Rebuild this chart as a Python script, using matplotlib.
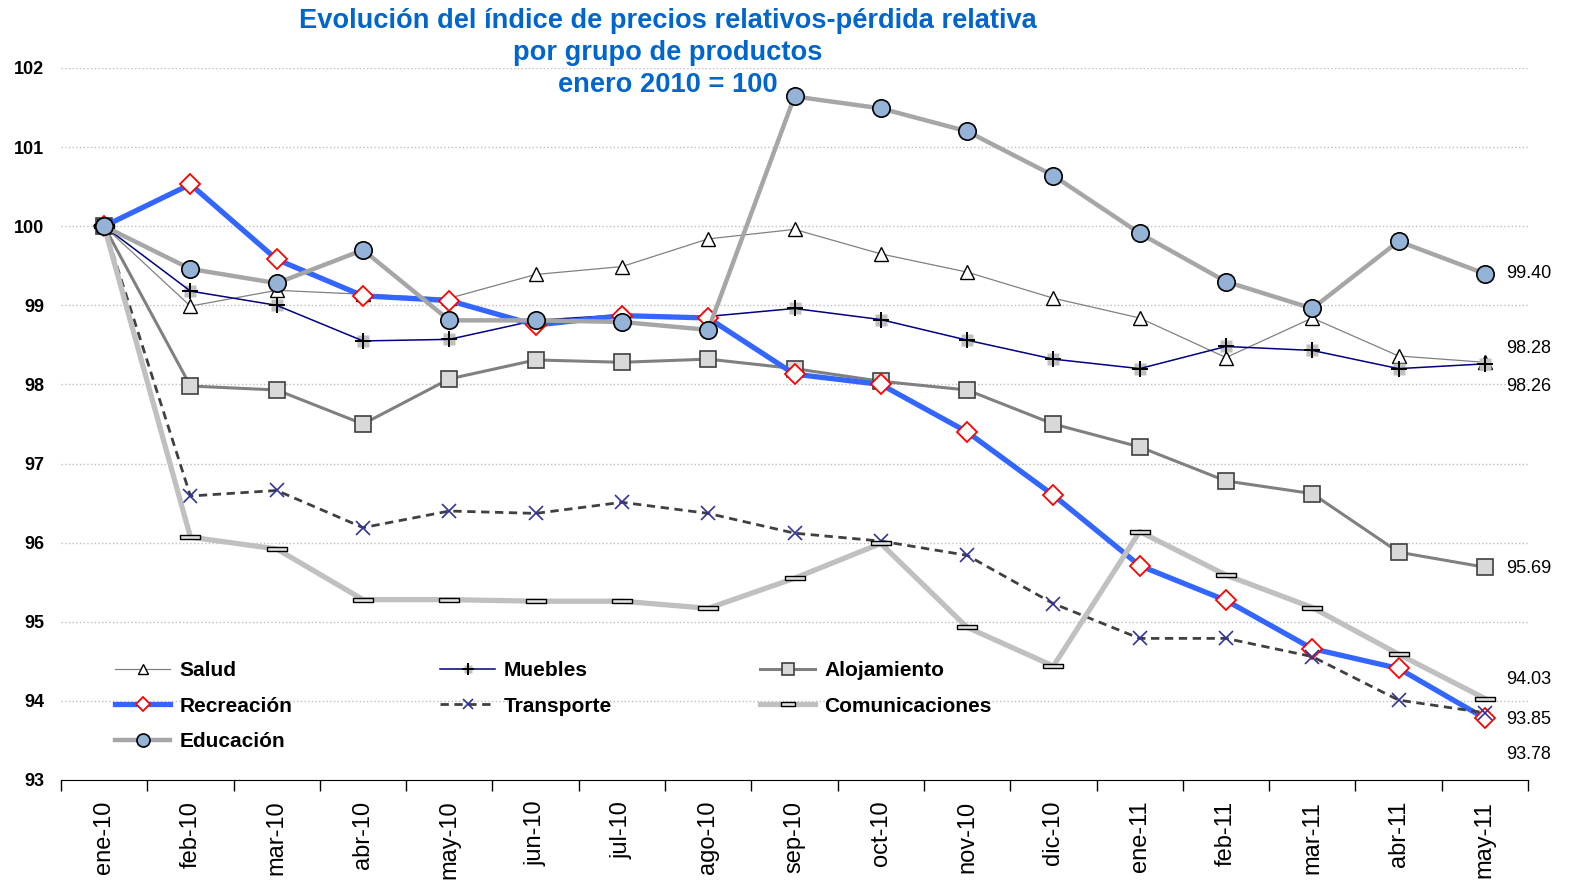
import matplotlib
matplotlib.use('Agg')
import matplotlib.pyplot as plt
import numpy as np

# Datos (enero 2010 = 100)
meses = ['ene-10', 'feb-10', 'mar-10', 'abr-10', 'may-10', 'jun-10', 'jul-10', 'ago-10',
         'sep-10', 'oct-10', 'nov-10', 'dic-10', 'ene-11', 'feb-11', 'mar-11', 'abr-11', 'may-11']

salud = [100, 98.99, 99.19, 99.14, 99.09, 99.39, 99.49, 99.84, 99.96, 99.65, 99.42, 99.09,
         98.84, 98.34, 98.84, 98.36, 98.28]
muebles = [100, 99.18, 99.0, 98.55, 98.57, 98.81, 98.88, 98.86, 98.96, 98.82, 98.56, 98.32,
           98.20, 98.48, 98.43, 98.20, 98.26]
alojamiento = [100, 97.98, 97.93, 97.50, 98.07, 98.31, 98.28, 98.32, 98.20, 98.04, 97.93, 97.50,
               97.21, 96.78, 96.62, 95.88, 95.69]
recreacion = [100, 100.53, 99.58, 99.12, 99.06, 98.75, 98.87, 98.84, 98.13, 98.0, 97.40, 96.60,
              95.71, 95.27, 94.66, 94.41, 93.78]
transporte = [100, 96.59, 96.66, 96.19, 96.40, 96.37, 96.51, 96.37, 96.12, 96.02, 95.84, 95.23,
              94.79, 94.79, 94.56, 94.01, 93.85]
comunicaciones = [100, 96.07, 95.92, 95.28, 95.28, 95.26, 95.26, 95.17, 95.55, 95.99, 94.93, 94.44,
                  96.14, 95.59, 95.18, 94.59, 94.03]
educacion = [100, 99.46, 99.28, 99.70, 98.81, 98.81, 98.79, 98.69, 101.64, 101.49, 101.20, 100.64,
             99.91, 99.30, 98.96, 99.81, 99.40]

# etiquetas del ultimo mes
etiquetas_fin = [(educacion[-1], '99.40', 0), (salud[-1], '98.28', 10),
                 (muebles[-1], '98.26', -16), (alojamiento[-1], '95.69', -1),
                 (comunicaciones[-1], '94.03', 14), (transporte[-1], '93.85', -5),
                 (recreacion[-1], '93.78', -26)]

FAM = ['Liberation Sans', 'DejaVu Sans']

fig = plt.figure(figsize=(15.69, 8.82), dpi=100)
ax = fig.add_axes([61 / 1569, 1 - 780 / 882, 1467 / 1569, 712 / 882])
x = np.arange(len(meses))

# Se dibujan las series en el orden de la leyenda
l_salud, = ax.plot(x, salud, color='#808080', lw=0.9, marker='^', ms=10,
                   mfc='white', mec='black', mew=1, label='Salud')
sq_mueb, = ax.plot(x, muebles, ls='none', marker='s', ms=8, mfc='#c0c0c0', mec='none')
l_mueb, = ax.plot(x, muebles, color='#000080', lw=1.1, marker='+', ms=11,
                  mec='black', mew=1.4, label='Muebles')
l_aloj, = ax.plot(x, alojamiento, color='#808080', lw=2.2, marker='s', ms=11,
                  mfc='#d9d9d9', mec='#404040', mew=1.2, label='Alojamiento')
l_recr, = ax.plot(x, recreacion, color='#3366ff', lw=3.8, marker='D', ms=10,
                  mfc='white', mec='red', mew=1.3, label='Recreación')
l_trans, = ax.plot(x, transporte, color='#404040', lw=2, ls=(0, (3, 2)), marker='x', ms=10,
                   mec='#333399', mew=1.2, label='Transporte')
rect = [(-1, -0.22), (1, -0.22), (1, 0.22), (-1, 0.22), (-1, -0.22)]
l_com, = ax.plot(x, comunicaciones, color='#c0c0c0', lw=3.8, marker=rect, ms=14,
                 mfc='#e0e0e0', mec='black', mew=1, label='Comunicaciones')
l_edu, = ax.plot(x, educacion, color='#a6a6a6', lw=3.2, marker='o', ms=12.5,
                 mfc='#95b3d7', mec='black', mew=1.2, label='Educación')

for val, txt, dy in etiquetas_fin:
    ax.annotate(txt, xy=(x[-1], val), xytext=(15, dy), textcoords='offset points',
                ha='left', va='center', fontsize=13, family=FAM)

ax.set_xlim(-0.5, len(meses) - 0.5)
ax.set_ylim(93, 102)
ax.set_yticks(range(93, 103))
ax.set_yticklabels([str(v) for v in range(93, 103)], fontsize=13, fontweight='bold', family=FAM)
ax.tick_params(axis='y', length=0, pad=12)

ax.set_xticks(x)
ax.set_xticklabels(meses, rotation=90, fontsize=17, family=FAM)
ax.set_xticks(np.arange(-0.5, len(meses), 1), minor=True)
ax.tick_params(axis='x', which='major', length=0, pad=15)
ax.tick_params(axis='x', which='minor', length=8, width=1, color='black')

ax.yaxis.grid(True, linestyle=':', color='#bfbfbf', lw=1)
ax.set_axisbelow(True)
for s in ['left', 'top', 'right']:
    ax.spines[s].set_visible(False)
ax.spines['bottom'].set_color('black')

handles = [l_salud, l_recr, l_edu, (sq_mueb, l_mueb), l_trans, l_aloj, l_com]
labels = ['Salud', 'Recreación', 'Educación', 'Muebles', 'Transporte', 'Alojamiento', 'Comunicaciones']
ax.legend(handles, labels, ncol=3, loc='upper left', bbox_to_anchor=(0.037, 0.167),
          frameon=False, borderpad=0, borderaxespad=0, handlelength=2.64, handletextpad=0.43,
          columnspacing=7.1, labelspacing=0.8, markerscale=0.75,
          prop={'family': FAM, 'weight': 'bold', 'size': 15})

fig.text(668 / 1569, 1 - 8 / 882,
         'Evolución del índice de precios relativos-pérdida relativa\npor grupo de productos\nenero 2010 = 100',
         ha='center', va='top', color='#0066cc', fontsize=19.6, fontweight='bold',
         family=FAM, linespacing=1.3)

fig.savefig('out.png', dpi=100)
